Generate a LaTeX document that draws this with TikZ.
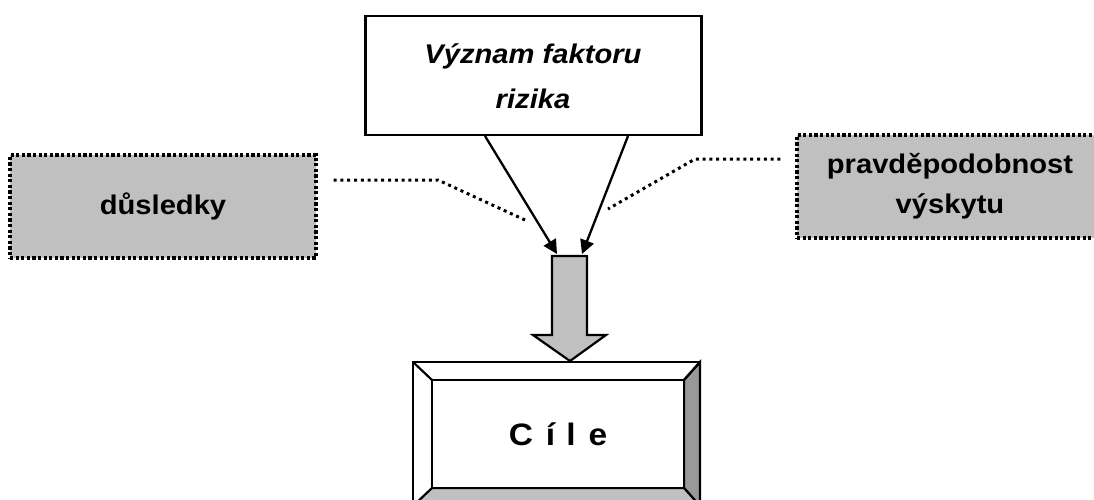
\documentclass[tikz,border=0pt]{standalone}
\usepackage{fontspec}
\newfontfamily\arialx[FakeStretch=1.08]{Liberation Sans}
\usetikzlibrary{arrows.meta}
\definecolor{boxgray}{HTML}{C0C0C0}
\definecolor{darkbevel}{HTML}{999999}
\tikzset{
  dotbox/.style={draw=black, fill=boxgray, line width=3.2pt, dash pattern=on 3.2pt off 2.4pt,
    minimum width=#1, inner sep=0pt, font=\arialx\bfseries\fontsize{27}{40}\selectfont, align=center},
  dotline/.style={line width=3pt, dash pattern=on 3pt off 3.8pt},
  plainbox/.style={draw=black, fill=white, line width=2.6pt, inner sep=0pt},
  thinarrow/.style={line width=2.3pt, -{Triangle[length=14pt,width=14pt]}},
  bevel/.style={draw=black, line width=2.2pt, line join=miter},
}
\begin{document}
\begin{tikzpicture}[x=1pt,y=-1pt]
\useasboundingbox (0,0) rectangle (1094,499);

% top box
\node[plainbox, minimum width=336pt, minimum height=119pt] (top) at (533.5,75.5) {};
\node[font=\arialx\bfseries\itshape\fontsize{27}{45}\selectfont, align=center] (toptext) at (533,76)
  {Význam faktoru\\rizika};

% side boxes
\node[dotbox=306pt, minimum height=103pt] (dus) at (163,206.5) {důsledky};
\node[dotbox=306pt, minimum height=103pt] (prav) at (950,186.5) {pravděpodobnost\\výskytu};

% block arrow
\path[draw=black, fill=boxgray, line width=2.2pt, line join=miter]
  (552,256) -- (587,256) -- (587,335) -- (606,335) -- (570,361) -- (533,335) -- (552,335) -- cycle;
\coordinate (tipL) at (557,254);
\coordinate (tipR) at (582,254);
\coordinate (startL) at (485,136);
\coordinate (startR) at (628,136);

% thin arrows
\draw[thinarrow] (startL) -- (tipL);
\draw[thinarrow] (startR) -- (tipR);

% dotted connectors
\coordinate (bendL) at (438,180);
\coordinate (endL) at (525,220);
\coordinate (bendR) at (695,159);
\coordinate (endR) at (608,209);
\draw[dotline] (dus.east |- bendL) ++(16,0) -- (bendL) -- (endL);
\draw[dotline] (prav.west |- bendR) ++(-15,0) -- (bendR) -- (endR);

% bevel box Cile
\fill[white] (413,362) rectangle (700,506);
\filldraw[bevel, fill=darkbevel] (700,362) -- (684,380) -- (684,488) -- (700,506) -- cycle;
\filldraw[bevel, fill=boxgray] (413,506) -- (432,488) -- (684,488) -- (700,506) -- cycle;
\draw[bevel] (413,362) rectangle (700,506);
\draw[bevel] (413,362) -- (432,380);
\draw[bevel] (700,362) -- (684,380);
\node[draw=black, line width=2.2pt, fill=white, minimum width=252pt, minimum height=108pt, inner sep=0pt,
  font=\arialx\bfseries\fontsize{31}{36}\selectfont] (cile) at (558,434)
  {C\hspace{13pt}í\hspace{11pt}l\hspace{13pt}e};
\end{tikzpicture}
\end{document}
